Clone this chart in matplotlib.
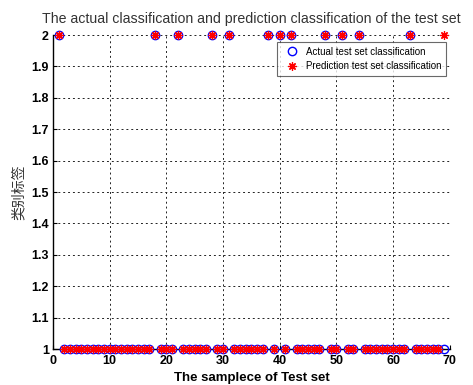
import matplotlib
matplotlib.use("Agg")
import matplotlib.pyplot as plt

# sample index of the test set
samples = list(range(1, 70))

# actual class labels of the test set
actual = [2, 1, 1, 1, 1, 1, 1, 1, 1, 1,
          1, 1, 1, 1, 1, 1, 1, 2, 1, 1,
          1, 2, 1, 1, 1, 1, 1, 2, 1, 1,
          2, 1, 1, 1, 1, 1, 1, 2, 1, 2,
          1, 2, 1, 1, 1, 1, 1, 2, 1, 1,
          2, 1, 1, 2, 1, 1, 1, 1, 1, 1,
          1, 1, 2, 1, 1, 1, 1, 1, 1]

# predicted class labels of the test set
predicted = [2, 1, 1, 1, 1, 1, 1, 1, 1, 1,
             1, 1, 1, 1, 1, 1, 1, 2, 1, 1,
             1, 2, 1, 1, 1, 1, 1, 2, 1, 1,
             2, 1, 1, 1, 1, 1, 1, 2, 1, 2,
             1, 2, 1, 1, 1, 1, 1, 2, 1, 1,
             2, 1, 1, 2, 1, 1, 1, 1, 1, 1,
             1, 1, 2, 1, 1, 1, 1, 1, 2]

xticks = [0, 10, 20, 30, 40, 50, 60, 70]
yticks = [1, 1.1, 1.2, 1.3, 1.4, 1.5, 1.6, 1.7, 1.8, 1.9, 2]

plt.rcParams["font.family"] = ["Liberation Sans", "Noto Sans CJK SC", "DejaVu Sans"]

fig = plt.figure(figsize=(4.73, 3.85), dpi=100)
ax = fig.add_axes([0.112, 0.0935, 0.839, 0.8155])

ax.plot(samples, actual, "o", mfc="none", mec="blue", ms=6, mew=1.0,
        label="Actual test set classification", clip_on=False, zorder=3)
ax.plot(samples, predicted, marker=(8, 2, 0), ls="none", color="red", ms=6, mew=0.9,
        label="Prediction test set classification", clip_on=False, zorder=4)

ax.set_xlim(0, 70)
ax.set_ylim(1, 2)
ax.set_xticks(xticks)
ax.set_yticks(yticks)
ax.set_xticklabels([str(v) for v in xticks], fontweight="bold", fontsize=9)
ax.set_yticklabels([f"{v:g}" for v in yticks], fontweight="bold", fontsize=9)
ax.tick_params(direction="in", length=3, width=0.8, pad=3)
ax.tick_params(axis="x", pad=4)

ax.grid(True, color="#222222", linestyle=(0, (2, 3)), linewidth=0.7)
ax.spines["top"].set_visible(False)
ax.spines["right"].set_visible(False)
for s in ("left", "bottom"):
    ax.spines[s].set_linewidth(1.0)

ax.set_title("The actual classification and prediction classification of the test set",
             fontsize=10.2, color="#333333", pad=9)
ax.set_xlabel("The samplece of Test set", fontsize=9.5, fontweight="bold", labelpad=4)
ax.set_ylabel("类别标签", family=["Noto Sans CJK SC", "DejaVu Sans"],
              fontsize=10, color="#333333", labelpad=4)

leg = ax.legend(loc="upper right", bbox_to_anchor=(0.995, 0.985),
                prop={"size": 7}, frameon=True, fancybox=False,
                borderpad=0.5, handletextpad=0.4, labelspacing=0.45,
                handlelength=2.0, borderaxespad=0.2)
leg.get_frame().set_edgecolor("#444444")
leg.get_frame().set_linewidth(0.8)

fig.savefig("out.png", dpi=100)
